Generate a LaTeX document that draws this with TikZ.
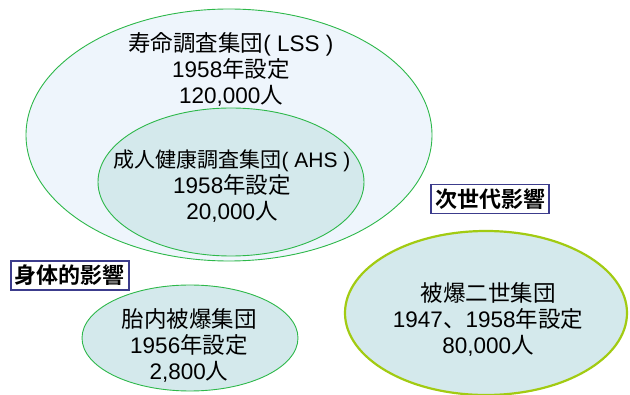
\documentclass[tikz,border=0pt]{standalone}
\usepackage{fontspec}
\setmainfont{Liberation Sans}
\newfontfamily\cjk{Noto Sans CJK JP}
\newfontfamily\cjkb{Noto Sans CJK JP Bold}
\definecolor{lgreen}{HTML}{2DB84A}
\definecolor{ygreen}{HTML}{A2CB12}
\definecolor{paleblue}{HTML}{EEF5FC}
\definecolor{paleteal}{HTML}{D4E9EC}
\definecolor{boxblue}{HTML}{3C3C8C}
\tikzset{
  txt/.style={align=center, font=\fontsize{22.5}{26}\selectfont, inner sep=0pt},
  tag/.style={draw=boxblue, line width=1.4pt, fill=white, inner xsep=4pt, inner ysep=4pt, font=\cjkb\fontsize{22}{24}\selectfont}
}
\usetikzlibrary{shapes.geometric}
\begin{document}
\begin{tikzpicture}[x=1pt,y=-1pt]
\useasboundingbox (0,0) rectangle (630,395);
\begin{scope}
\clip (0,0) rectangle (630,395);
\draw[draw=lgreen, line width=0.9pt, fill=paleblue] (229,135) ellipse [x radius=203, y radius=126];
\draw[draw=lgreen, line width=0.9pt, fill=paleteal] (231,182) ellipse [x radius=133, y radius=74];
\draw[draw=lgreen, line width=0.9pt, fill=paleteal] (190,338) ellipse [x radius=108, y radius=53];
\draw[draw=ygreen, line width=2.2pt, fill=paleteal] (486,313) ellipse [x radius=141, y radius=82];
\end{scope}
\node[txt] (lss) at (231,69) {{\cjk 寿命調査集団}( LSS )\\1958{\cjk 年設定}\\120,000{\cjk 人}};
\node[txt] (ahs) at (232,186) {{\fontsize{21}{26}\selectfont{\cjk 成人健康調査集団}( AHS )}\\1958{\cjk 年設定}\\20,000{\cjk 人}};
\node[txt] (fetal) at (189,345) {{\cjk 胎内被爆集団}\\1956{\cjk 年設定}\\2,800{\cjk 人}};
\node[txt] (f2) at (488,319) {{\cjk 被爆二世集団}\\1947{\cjk 、}1958{\cjk 年設定}\\80,000{\cjk 人}};
\node[tag] (next) at (490,199) {次世代影響};
\node[tag] (body) at (70,275.5) {身体的影響};
\end{tikzpicture}
\end{document}
